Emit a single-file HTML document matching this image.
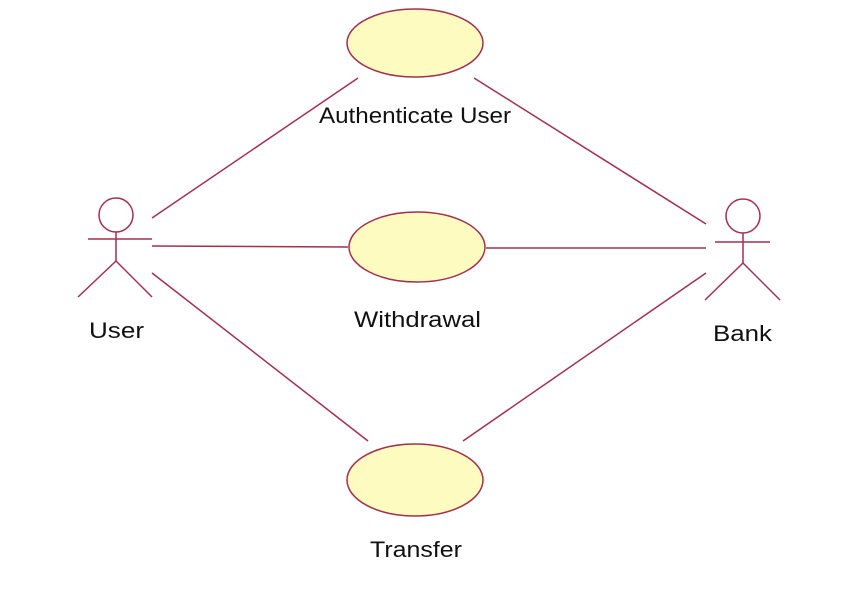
<!DOCTYPE html>
<html><head><style>body{margin:0;background:#fff}svg text{font-family:"Liberation Sans",Arial,sans-serif;font-size:22px;fill:#111}</style></head><body>
<svg width="844" height="594" viewBox="0 0 844 594" xmlns="http://www.w3.org/2000/svg">
<g stroke="#a3304f" stroke-width="1.5" fill="none">
<line x1="152" y1="218" x2="358" y2="78"/>
<line x1="152" y1="246" x2="348" y2="247"/>
<line x1="152" y1="273" x2="368" y2="441"/>
<line x1="474" y1="78" x2="706" y2="224"/>
<line x1="486" y1="248" x2="706" y2="248"/>
<line x1="463" y1="441" x2="706" y2="273"/>
<circle cx="116" cy="215" r="17"/>
<line x1="88" y1="239" x2="152" y2="239"/>
<line x1="116" y1="232" x2="116" y2="261"/>
<line x1="116" y1="261" x2="78" y2="297"/>
<line x1="116" y1="261" x2="152" y2="297"/>
<circle cx="743" cy="216" r="17"/>
<line x1="715" y1="242" x2="770" y2="242"/>
<line x1="743" y1="233" x2="743" y2="263"/>
<line x1="743" y1="263" x2="705" y2="300"/>
<line x1="743" y1="263" x2="780" y2="300"/>
</g>
<g fill="#fdfbbf" stroke="#a3304f" stroke-width="1.5">
<ellipse cx="415" cy="43" rx="68" ry="34"/>
<ellipse cx="417" cy="247" rx="68" ry="35"/>
<ellipse cx="415" cy="480" rx="68" ry="36"/>
</g>
<text x="319" y="123" textLength="192" lengthAdjust="spacingAndGlyphs">Authenticate User</text>
<text x="354" y="327" textLength="127" lengthAdjust="spacingAndGlyphs">Withdrawal</text>
<text x="370" y="557" textLength="92" lengthAdjust="spacingAndGlyphs">Transfer</text>
<text x="89" y="338" textLength="55" lengthAdjust="spacingAndGlyphs">User</text>
<text x="713" y="341" textLength="59" lengthAdjust="spacingAndGlyphs">Bank</text>
</svg>
</body></html>
